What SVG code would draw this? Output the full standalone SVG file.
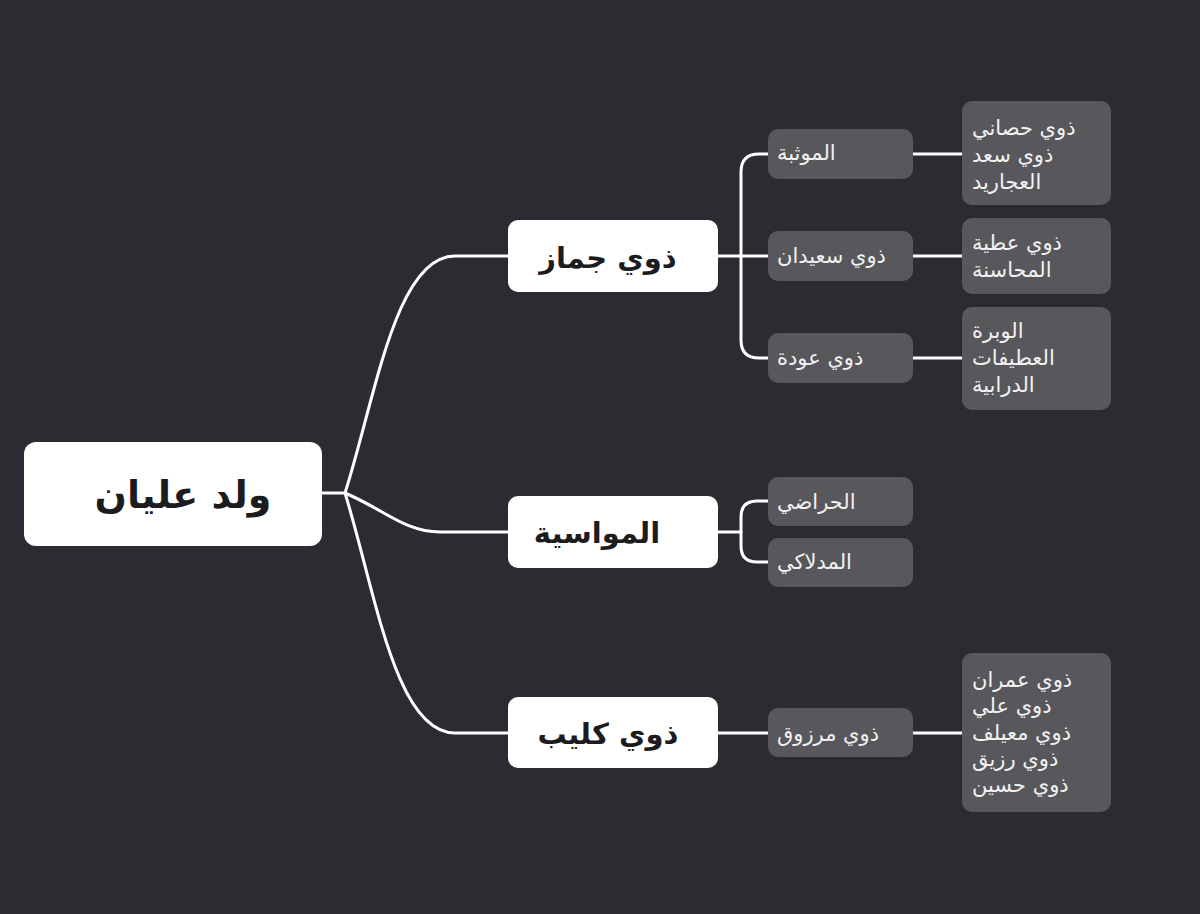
<svg xmlns="http://www.w3.org/2000/svg" width="1200" height="914" viewBox="0 0 1200 914">
<style>
.bg{fill:#2b2c31}
.wbox{fill:#ffffff}
.gbox{fill:#58585c}
.conn{fill:none;stroke:#ffffff;stroke-width:3;stroke-linecap:round;stroke-linejoin:round}
.root{font-family:"DejaVu Sans",sans-serif;font-weight:bold;font-size:38px;fill:#1c1c1e}
.mid{font-family:"DejaVu Sans",sans-serif;font-weight:bold;font-size:29px;fill:#1c1c1e}
.sm{font-family:"DejaVu Sans",sans-serif;font-size:21px;fill:#f2f2f2}
</style>
<rect class="bg" x="0" y="0" width="1200" height="914"/>
<g id="connectors">
<path class="conn" d="M322,493 H345"/>
<path class="conn" d="M345,493 C375,400 395,256 455,256 H508"/>
<path class="conn" d="M345,493 C385,510 405,532 440,532 H508"/>
<path class="conn" d="M345,493 C375,590 395,733 455,733 H508"/>
<path class="conn" d="M718,256 H768"/>
<path class="conn" d="M768,154 H759 Q741,154 741,172 V340 Q741,358 759,358 H768"/>
<path class="conn" d="M718,532 H741"/>
<path class="conn" d="M768,501 H757 Q741,501 741,517 V546 Q741,562 757,562 H768"/>
<path class="conn" d="M718,733 H768"/>
<path class="conn" d="M913,154 H962"/>
<path class="conn" d="M913,256 H962"/>
<path class="conn" d="M913,358 H962"/>
<path class="conn" d="M913,733 H962"/>
</g>
<g id="root">
<rect class="wbox" x="24" y="442" width="298" height="104" rx="12"/>
<text class="root" x="183" y="508" text-anchor="middle">ولد عليان</text>
</g>
<g id="n-jammaz">
<rect class="wbox" x="508" y="220" width="210" height="72" rx="10"/>
<text class="mid" x="608" y="268" text-anchor="middle">ذوي جماز</text>
</g>
<g id="n-mawasia">
<rect class="wbox" x="508" y="496" width="210" height="72" rx="10"/>
<text class="mid" x="597" y="543" text-anchor="middle">المواسية</text>
</g>
<g id="n-kulaib">
<rect class="wbox" x="508" y="697" width="210" height="71" rx="10"/>
<text class="mid" x="608" y="744" text-anchor="middle">ذوي كليب</text>
</g>
<g id="n-mawthaba">
<rect class="gbox" x="768" y="129" width="145" height="50" rx="10"/>
<text class="sm" x="777" y="160">الموثبة</text>
</g>
<g id="n-saidan">
<rect class="gbox" x="768" y="231" width="145" height="50" rx="10"/>
<text class="sm" x="777" y="263">ذوي سعيدان</text>
</g>
<g id="n-awda">
<rect class="gbox" x="768" y="333" width="145" height="50" rx="10"/>
<text class="sm" x="777" y="365">ذوي عودة</text>
</g>
<g id="n-harradi">
<rect class="gbox" x="768" y="477" width="145" height="49" rx="10"/>
<text class="sm" x="777" y="509">الحراضي</text>
</g>
<g id="n-madlaki">
<rect class="gbox" x="768" y="538" width="145" height="49" rx="10"/>
<text class="sm" x="777" y="569">المدلاكي</text>
</g>
<g id="n-marzouq">
<rect class="gbox" x="768" y="708" width="145" height="49" rx="10"/>
<text class="sm" x="777" y="741">ذوي مرزوق</text>
</g>
<g id="l-mawthaba">
<rect class="gbox" x="962" y="101" width="149" height="104" rx="10"/>
<text class="sm" x="972" y="135">ذوي حصاني</text>
<text class="sm" x="972" y="162">ذوي سعد</text>
<text class="sm" x="972" y="189">العجاريد</text>
</g>
<g id="l-saidan">
<rect class="gbox" x="962" y="218" width="149" height="76" rx="10"/>
<text class="sm" x="972" y="250">ذوي عطية</text>
<text class="sm" x="972" y="277">المحاسنة</text>
</g>
<g id="l-awda">
<rect class="gbox" x="962" y="307" width="149" height="103" rx="10"/>
<text class="sm" x="972" y="338">الوبرة</text>
<text class="sm" x="972" y="365">العطيفات</text>
<text class="sm" x="972" y="392">الدرابية</text>
</g>
<g id="l-marzouq">
<rect class="gbox" x="962" y="653" width="149" height="159" rx="10"/>
<text class="sm" x="972" y="687">ذوي عمران</text>
<text class="sm" x="972" y="713">ذوي علي</text>
<text class="sm" x="972" y="740">ذوي معيلف</text>
<text class="sm" x="972" y="766">ذوي رزيق</text>
<text class="sm" x="972" y="792">ذوي حسين</text>
</g>
</svg>
